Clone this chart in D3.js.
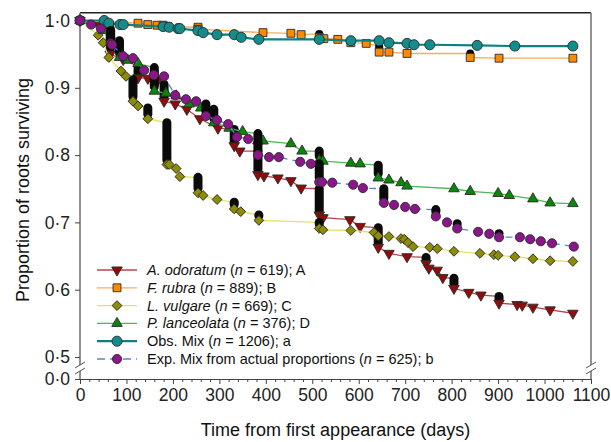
<!DOCTYPE html>
<html>
<head>
<meta charset="utf-8">
<script src="https://cdn.jsdelivr.net/npm/d3@7"></script>
<style>
  body { margin: 0; background: #fff; }
  svg { font-family: "Liberation Sans", Arial, sans-serif; }
</style>
</head>
<body>
<svg id="chart" width="611" height="442"></svg>
<script>

// Root survival: [day, proportion surviving]
// Two points on the same day are a pile of stacked symbols (drawn black)
const odoratum = [
    [0,1.000],[40,0.993],[65,0.988],[65,0.950],[93,0.942],[125,0.932],[125,0.915],[146,0.914],
    [168,0.912],[181,0.905],[181,0.880],[205,0.876],[230,0.868],[258,0.854],[297,0.840],[332,0.838],
    [332,0.814],[344,0.806],[383,0.806],[383,0.771],[396,0.769],[426,0.766],[454,0.762],[476,0.751],
    [515,0.750],[515,0.711],[523,0.707],[581,0.704],[603,0.694],[642,0.692],[642,0.663],[665,0.654],
    [704,0.649],[745,0.648],[745,0.639],[751,0.632],[769,0.629],[781,0.618],[805,0.617],[805,0.602],
    [837,0.596],[863,0.592],[902,0.590],[902,0.580],[941,0.578],[952,0.577],[975,0.574],[1012,0.570],
    [1061,0.565]
];
const rubra = [
    [0,1.000],[125,0.996],[146,0.994],[166,0.993],[179,0.993],[189,0.991],[254,0.990],[254,0.987],
    [394,0.982],[454,0.981],[476,0.979],[515,0.980],[515,0.975],[525,0.973],[555,0.972],[583,0.967],
    [616,0.966],[644,0.962],[644,0.953],[665,0.953],[704,0.951],[840,0.951],[840,0.945],[902,0.944],
    [1061,0.944]
];
const vulgare = [
    [0,1.000],[39,0.978],[50,0.967],[62,0.945],[88,0.925],[99,0.917],[114,0.912],[114,0.880],
    [125,0.873],[146,0.870],[146,0.854],[187,0.848],[187,0.786],[192,0.786],[207,0.780],[215,0.768],
    [254,0.767],[254,0.744],[265,0.740],[295,0.734],[332,0.730],[332,0.720],[346,0.716],[385,0.711],
    [385,0.703],[515,0.700],[515,0.691],[523,0.689],[583,0.688],[633,0.685],[642,0.680],[665,0.679],
    [691,0.676],[698,0.675],[706,0.670],[717,0.664],[753,0.663],[769,0.661],[805,0.657],[861,0.654],
    [891,0.652],[900,0.651],[936,0.649],[975,0.646],[1012,0.643],[1061,0.642]
];
const lanceolata = [
    [0,1.000],[50,0.985],[85,0.970],[85,0.945],[103,0.941],[125,0.936],[160,0.930],[160,0.895],
    [185,0.892],[207,0.888],[235,0.876],[260,0.870],[288,0.868],[288,0.848],[321,0.840],[350,0.835],
    [383,0.832],[383,0.821],[394,0.821],[454,0.817],[478,0.806],[515,0.806],[515,0.792],[523,0.791],
    [583,0.788],[603,0.787],[642,0.785],[642,0.766],[665,0.763],[691,0.759],[704,0.754],[805,0.750],
    [840,0.746],[900,0.743],[924,0.740],[975,0.735],[1012,0.729],[1061,0.728]
];
const obsMix = [
    [0,1.000],[52,1.000],[62,0.996],[86,0.994],[93,0.994],[179,0.991],[192,0.990],[211,0.988],
    [215,0.988],[254,0.985],[265,0.982],[295,0.979],[332,0.979],[347,0.975],[385,0.972],[515,0.972],
    [583,0.970],[644,0.970],[665,0.967],[704,0.966],[719,0.964],[753,0.964],[855,0.963],[936,0.962],
    [1061,0.962]
];
const expMix = [
    [0,1.000],[24,0.994],[45,0.988],[66,0.985],[66,0.966],[69,0.964],[93,0.947],[114,0.944],
    [138,0.926],[159,0.919],[181,0.917],[205,0.889],[228,0.883],[250,0.880],[271,0.876],[271,0.858],
    [295,0.852],[319,0.846],[338,0.827],[362,0.824],[383,0.824],[383,0.800],[407,0.797],[428,0.797],
    [474,0.790],[497,0.787],[515,0.787],[515,0.760],[521,0.760],[543,0.759],[588,0.756],[609,0.751],
    [654,0.750],[654,0.729],[676,0.726],[700,0.723],[721,0.720],[766,0.719],[766,0.709],[790,0.700],
    [812,0.698],[812,0.691],[857,0.686],[881,0.683],[902,0.683],[902,0.678],[947,0.678],[969,0.675],
    [992,0.672],[1016,0.669],[1063,0.664]
];

const xTicks = d3.range(0, 1101, 100);
const xMinorTicks = d3.range(0, 1101, 20).filter(d => d % 100 !== 0);
const yTicks = [0.5, 0.6, 0.7, 0.8, 0.9, 1.0];
const yLowTicks = [0];

const legendLabels = [
    [["A. odoratum", true], [" (", false], ["n", true], [" = 619); A", false]],
    [["F. rubra", true], [" (", false], ["n", true], [" = 889); B", false]],
    [["L. vulgare", true], [" (", false], ["n", true], [" = 669); C", false]],
    [["P. lanceolata", true], [" (", false], ["n", true], [" = 376); D", false]],
    [["Obs. Mix (", false], ["n", true], [" = 1206); a", false]],
    [["Exp. Mix from actual proportions (", false], ["n", true], [" = 625); b", false]]
];

// Drawing styles per series, in legend order
const series = [
    {data: odoratum,   line: "#b5484c", fill: "#930a0a", shape: "down",    size: 48, w: 9,  lw: 1.3},
    {data: rubra,      line: "#f6ad5f", fill: "#ff8a00", shape: "square",  size: 62, w: 8,  lw: 1.3},
    {data: vulgare,    line: "#e3e36a", fill: "#8c8c05", shape: "diamond", size: 48, w: 9,  lw: 1.3},
    {data: lanceolata, line: "#52b556", fill: "#0a860a", shape: "up",      size: 48, w: 9,  lw: 1.3},
    {data: obsMix,     line: "#0e8080", fill: "#148c8c", shape: "circle",  size: 80, w: 10, lw: 2.2},
    {data: expMix,     line: "#5a86c2", fill: "#8a168a", shape: "circle",  size: 66, w: 9,  lw: 1.3, dash: "7,5"}
];

// Scales (the y axis is broken between 0 and 0.5)
const x = d3.scaleLinear().domain([0, 1100]).range([80, 591]);
const y = d3.scaleLinear().domain([0.5, 1.0]).range([357, 20.5]);
const yLow = d3.scaleLinear().domain([0, 0.5]).range([379, 357]);
const frameTop = y(1.0115);
const breakY = 368;

const svg = d3.select("#chart");

function symbolPath(shape, size) {
    if (shape === "circle") return d3.symbol(d3.symbolCircle, size)();
    if (shape === "square" || shape === "diamond") return d3.symbol(d3.symbolSquare, size)();
    return d3.symbol(d3.symbolTriangle, size)();
}
function symbolRotate(shape) {
    if (shape === "down") return " rotate(180)";
    if (shape === "diamond") return " rotate(45)";
    return "";
}

// Frame and axis lines
svg.append("line")
    .attr("x1", x(0)).attr("x2", x(1100))
    .attr("y1", frameTop).attr("y2", frameTop)
    .attr("stroke", "#222").attr("stroke-width", 1.3);
[x(0), x(1100)].forEach(px => {
    svg.append("line")
        .attr("x1", px).attr("x2", px)
        .attr("y1", frameTop).attr("y2", breakY - 3)
        .attr("stroke", "#777").attr("stroke-width", 1.6);
    svg.append("line")
        .attr("x1", px).attr("x2", px)
        .attr("y1", breakY + 3).attr("y2", yLow(0))
        .attr("stroke", "#777").attr("stroke-width", 1.6);
    // break marks
    [-3, 3].forEach(off => {
        svg.append("line")
            .attr("x1", px - 5).attr("x2", px + 5)
            .attr("y1", breakY + off + 3).attr("y2", breakY + off - 3)
            .attr("stroke", "#555").attr("stroke-width", 1);
    });
});

// X axis
const xAxisG = svg.append("g")
    .attr("transform", `translate(0, ${yLow(0)})`)
    .call(d3.axisBottom(x).tickValues(xTicks).tickSize(5).tickSizeOuter(0).tickPadding(5)
        .tickFormat(d3.format("d")));
xAxisG.select(".domain").attr("stroke", "#444");
svg.append("g")
    .attr("transform", `translate(0, ${yLow(0)})`)
    .call(d3.axisBottom(x).tickValues(xMinorTicks).tickSize(3).tickFormat(""))
    .select(".domain").remove();

// Y axis
const yFormat = d => d3.format(".1f")(d).replace(".", "\u00b7");
const yAxisG = svg.append("g")
    .attr("transform", `translate(${x(0)}, 0)`)
    .call(d3.axisLeft(y).tickValues(yTicks).tickSize(5).tickPadding(5).tickFormat(yFormat));
yAxisG.select(".domain").remove();
const yLowG = svg.append("g")
    .attr("transform", `translate(${x(0)}, 0)`)
    .call(d3.axisLeft(yLow).tickValues(yLowTicks).tickSize(5).tickPadding(5).tickFormat(yFormat));
yLowG.select(".domain").remove();

svg.selectAll(".tick line").attr("stroke", "#444");
svg.selectAll(".tick text")
    .attr("fill", "#222")
    .style("font-size", "17.5px")
    .style("font-family", "'Liberation Sans', Arial, sans-serif");

// Axis titles
svg.append("text")
    .attr("x", (x(0) + x(1100)) / 2)
    .attr("y", 436)
    .attr("text-anchor", "middle")
    .style("font-size", "18px")
    .attr("fill", "#111")
    .text("Time from first appearance (days)");
svg.append("text")
    .attr("transform", "translate(29, 190) rotate(-90)")
    .attr("text-anchor", "middle")
    .style("font-size", "18px")
    .attr("fill", "#111")
    .text("Proportion of roots surviving");

// Series: line, stacked symbol piles, symbols
const lineGen = d3.line().x(d => x(d[0])).y(d => y(d[1]));
series.forEach(s => {
    const g = svg.append("g");
    g.append("path")
        .datum(s.data)
        .attr("d", lineGen)
        .attr("fill", "none")
        .attr("stroke", s.line)
        .attr("stroke-width", s.lw)
        .attr("stroke-dasharray", s.dash || null);

    const piles = [];
    const tops = new Set();
    s.data.forEach((d, i) => {
        const next = s.data[i + 1];
        if (next && next[0] === d[0] && d[1] - next[1] > 0.004) {
            piles.push([d, next]);
            tops.add(i);
        }
    });
    g.selectAll(".pile")
        .data(piles)
        .enter()
        .append("rect")
        .attr("x", p => x(p[0][0]) - s.w / 2)
        .attr("y", p => y(p[0][1]) - s.w / 2)
        .attr("width", s.w)
        .attr("height", p => y(p[1][1]) - y(p[0][1]) + s.w / 2)
        .attr("rx", s.w / 2)
        .attr("fill", "#0a0a0a");

    g.selectAll(".pt")
        .data(s.data.filter((d, i) => !tops.has(i)))
        .enter()
        .append("path")
        .attr("d", symbolPath(s.shape, s.size))
        .attr("transform", d => `translate(${x(d[0])}, ${y(d[1])})${symbolRotate(s.shape)}`)
        .attr("fill", s.fill)
        .attr("stroke", "#2a2a2a")
        .attr("stroke-width", 0.9);
});

// Legend
const legend = svg.append("g");
series.forEach((s, i) => {
    const ly = 270 + i * 17.8;
    legend.append("line")
        .attr("x1", 97).attr("x2", 137)
        .attr("y1", ly).attr("y2", ly)
        .attr("stroke", s.line)
        .attr("stroke-width", s.lw)
        .attr("stroke-dasharray", s.dash ? "8,5" : null);
    legend.append("path")
        .attr("d", symbolPath(s.shape, s.size))
        .attr("transform", `translate(117, ${ly})${symbolRotate(s.shape)}`)
        .attr("fill", s.fill)
        .attr("stroke", "#2a2a2a")
        .attr("stroke-width", 0.9);
    const t = legend.append("text")
        .attr("x", 147)
        .attr("y", ly + 5)
        .style("font-size", "14.5px")
        .attr("fill", "#111");
    legendLabels[i].forEach(part => {
        t.append("tspan")
            .style("font-style", part[1] ? "italic" : "normal")
            .text(part[0]);
    });
});

</script>
</body>
</html>
